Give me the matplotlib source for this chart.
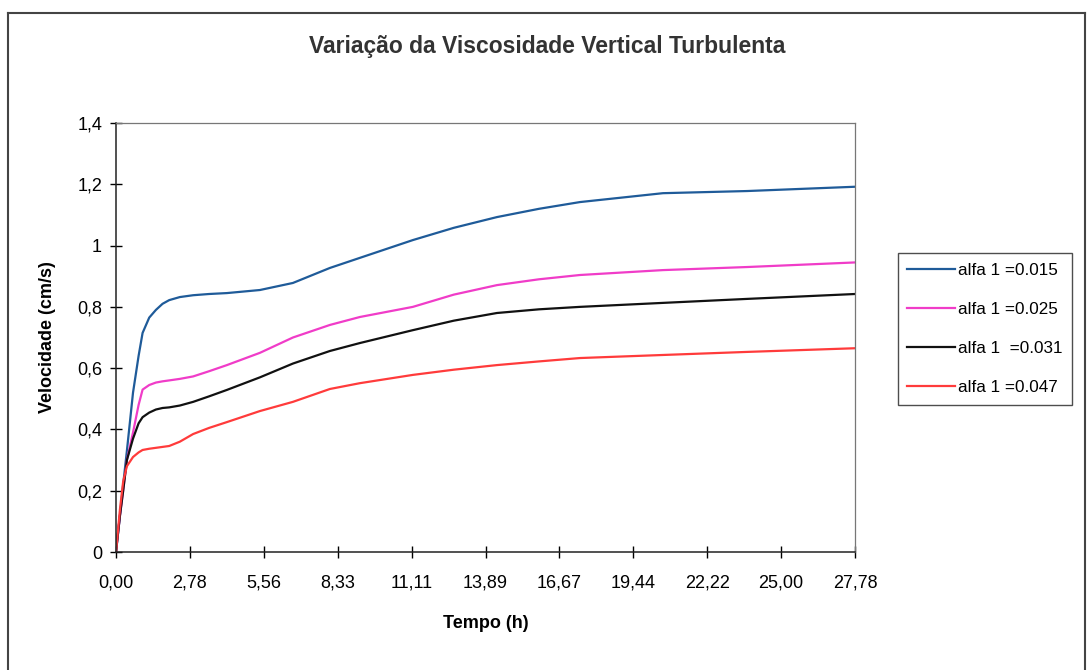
import matplotlib
matplotlib.use("Agg")
import matplotlib.pyplot as plt
from matplotlib.lines import Line2D

plt.rcParams['font.family'] = ['Liberation Sans', 'DejaVu Sans']

# tempo (h) e velocidade (cm/s)
tempo = [0, 0.15, 0.27, 0.41, 0.64, 0.85, 1.0, 1.25, 1.5, 1.75, 2.0, 2.4, 2.9,
         3.5, 4.17, 5.41, 6.65, 8.04, 9.17, 11.16, 12.7, 14.32, 15.9, 17.44,
         20.56, 23.72, 27.78]
alfa_015 = [0, 0.12, 0.22, 0.33, 0.52, 0.64, 0.715, 0.765, 0.79, 0.81, 0.822,
            0.832, 0.838, 0.842, 0.845, 0.855, 0.878, 0.927, 0.96, 1.018, 1.058,
            1.093, 1.12, 1.142, 1.171, 1.178, 1.192]
alfa_025 = [0, 0.12, 0.20, 0.30, 0.39, 0.48, 0.53, 0.545, 0.553, 0.557, 0.56,
            0.565, 0.573, 0.59, 0.61, 0.65, 0.70, 0.741, 0.767, 0.80, 0.84,
            0.871, 0.89, 0.904, 0.92, 0.93, 0.945]
alfa_031 = [0, 0.12, 0.20, 0.30, 0.37, 0.42, 0.44, 0.455, 0.465, 0.47, 0.472,
            0.478, 0.49, 0.508, 0.529, 0.57, 0.615, 0.656, 0.682, 0.724, 0.755,
            0.78, 0.792, 0.80, 0.813, 0.826, 0.842]
alfa_047 = [0, 0.14, 0.23, 0.28, 0.31, 0.325, 0.333, 0.337, 0.34, 0.343, 0.346,
            0.36, 0.385, 0.405, 0.424, 0.46, 0.49, 0.532, 0.551, 0.578, 0.595,
            0.61, 0.622, 0.633, 0.643, 0.653, 0.665]

labels = ['alfa 1 =0.015', 'alfa 1 =0.025', 'alfa 1  =0.031', 'alfa 1 =0.047']
cores = ['#1f5b99', '#f03cc8', '#111111', '#ff3b3b']

xticks = [0, 2.78, 5.56, 8.33, 11.11, 13.89, 16.67, 19.44, 22.22, 25.00, 27.78]
xticklabels = ['0,00', '2,78', '5,56', '8,33', '11,11', '13,89', '16,67',
               '19,44', '22,22', '25,00', '27,78']
yticks = [0, 0.2, 0.4, 0.6, 0.8, 1.0, 1.2, 1.4]
yticklabels = ['0', '0,2', '0,4', '0,6', '0,8', '1', '1,2', '1,4']

fig = plt.figure(figsize=(10.87, 6.70), dpi=100)
ax = fig.add_axes([0.1067, 0.1761, 0.6799, 0.6403])

for serie, lab, cor in zip([alfa_015, alfa_025, alfa_031, alfa_047], labels, cores):
    ax.plot(tempo, serie, color=cor, lw=1.6, label=lab)

ax.set_xlim(0, 27.78)
ax.set_ylim(0, 1.4)
ax.set_xticks(xticks)
ax.set_xticklabels(xticklabels)
ax.set_yticks(yticks)
ax.set_yticklabels(yticklabels)
ax.tick_params(direction='inout', length=8, width=1, labelsize=13)
ax.tick_params(axis='x', pad=12)
ax.tick_params(axis='y', pad=6)

for s in ['top', 'right']:
    ax.spines[s].set_color('#777777')
    ax.spines[s].set_linewidth(0.9)
for s in ['left', 'bottom']:
    ax.spines[s].set_color('#222222')
    ax.spines[s].set_linewidth(1.1)

ax.set_xlabel('Tempo (h)', fontsize=13, fontweight='bold', labelpad=17)
ax.set_ylabel('Velocidade (cm/s)', fontsize=13, fontweight='bold', labelpad=15)

fig.text(0.503, 0.931, 'Variação da Viscosidade Vertical Turbulenta',
         ha='center', va='center', fontsize=16.5, fontweight='bold', color='#333333')

fig.legend(loc='upper left', bbox_to_anchor=(0.826, 0.622), borderaxespad=0,
           frameon=True, fancybox=False, edgecolor='#222222', fontsize=12.3,
           handlelength=2.8, handletextpad=0.15, labelspacing=1.42,
           borderpad=0.55)

# moldura externa
fig.add_artist(Line2D([8 / 1087, 8 / 1087], [0, 1 - 13 / 670], color='#444444', lw=1.5))
fig.add_artist(Line2D([8 / 1087, 1085 / 1087], [1 - 13 / 670, 1 - 13 / 670], color='#444444', lw=1.5))
fig.add_artist(Line2D([1085 / 1087, 1085 / 1087], [0, 1 - 13 / 670], color='#444444', lw=1.5))

fig.savefig('out.png', dpi=100)
